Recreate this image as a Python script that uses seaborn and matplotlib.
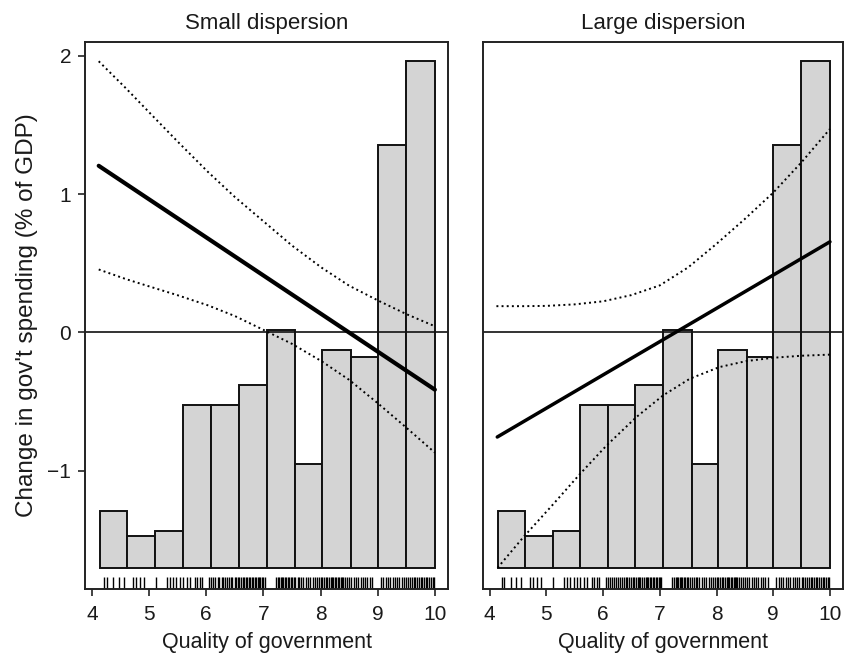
import numpy as np
import pandas as pd
import matplotlib
matplotlib.use("Agg")
import matplotlib.pyplot as plt
import seaborn as sns

# ---------------- data ----------------
panel_titles = ["Small dispersion", "Large dispersion"]
x_ticks = [4, 5, 6, 7, 8, 9, 10]
y_ticks = [-1, 0, 1, 2]

# histogram of quality of government (drawn on the y scale, base at -1.70)
hist_edges = [4.147, 4.62, 5.11, 5.59, 6.08, 6.57, 7.06, 7.56, 8.03, 8.53, 9.00, 9.49, 10.0]
hist_tops = [-1.29, -1.47, -1.435, -0.524, -0.524, -0.377, 0.015, -0.95, -0.13, -0.18, 1.353, 1.96]
hist_base = -1.70

# rug of observed quality-of-government values
rug_values = [4.22, 4.26, 4.37, 4.47, 4.56, 4.72, 4.77, 4.835, 4.91, 5.115,
              5.32, 5.36, 5.42, 5.48, 5.535, 5.59, 5.66, 5.72, 5.80, 5.84, 5.89, 5.92,
              6.05, 6.09, 6.12, 6.16, 6.20, 6.23, 6.27, 6.30, 6.33, 6.37, 6.40, 6.43,
              6.46, 6.50, 6.53, 6.55, 6.58, 6.61, 6.64, 6.66, 6.69, 6.72, 6.75, 6.77,
              6.80, 6.82, 6.85, 6.88, 6.90, 6.93, 6.95, 6.98, 7.00, 7.03, 7.22, 7.25,
              7.28, 7.30, 7.33, 7.35, 7.38, 7.40, 7.43, 7.45, 7.48, 7.50, 7.53, 7.56,
              7.60, 7.63, 7.66, 7.70, 7.74, 7.78, 7.82, 7.86, 7.90, 7.94, 7.97, 8.00,
              8.03, 8.06, 8.09, 8.12, 8.15, 8.18, 8.20, 8.22, 8.25, 8.27, 8.30, 8.32,
              8.35, 8.37, 8.40, 8.43, 8.46, 8.50, 8.54, 8.58, 8.62, 8.66, 8.70, 8.74,
              8.78, 8.82, 8.86, 8.90, 9.05, 9.10, 9.14, 9.18, 9.22, 9.26, 9.30, 9.34,
              9.38, 9.42, 9.46, 9.50, 9.53, 9.56, 9.60, 9.63, 9.66, 9.69, 9.72, 9.75,
              9.78, 9.81, 9.84, 9.87, 9.90, 9.93, 9.96, 9.99]

# Small dispersion panel
small_fit_x = [4.12, 10.0]
small_fit_y = [1.204, -0.413]
small_band_x = [4.12, 4.6, 5.04, 5.5, 6.03, 6.5, 7.03, 7.5, 8.02, 8.5, 9.01, 9.5, 10.0]
small_upper = [1.959, 1.762, 1.574, 1.379, 1.160, 0.979, 0.793, 0.628, 0.468, 0.338, 0.230, 0.133, 0.045]
small_lower = [0.455, 0.385, 0.328, 0.269, 0.196, 0.119, 0.013, -0.082, -0.208, -0.342, -0.514, -0.687, -0.868]

# Large dispersion panel
large_fit_x = [4.135, 10.0]
large_fit_y = [-0.755, 0.655]
large_upper_x = [4.12, 4.6, 5.0, 5.5, 6.0, 6.5, 7.0, 7.5, 8.0, 8.5, 9.0, 9.5, 10.0]
large_upper = [0.19, 0.19, 0.192, 0.203, 0.225, 0.27, 0.34, 0.47, 0.64, 0.82, 1.01, 1.23, 1.47]
large_lower_x = [4.14, 4.6, 5.1, 5.6, 6.065, 6.59, 7.06, 7.53, 8.05, 8.52, 8.99, 9.5, 10.0]
large_lower = [-1.70, -1.476, -1.25, -1.019, -0.815, -0.61, -0.454, -0.334, -0.25, -0.207, -0.183, -0.168, -0.16]

xlabel = "Quality of government"
ylabel = "Change in gov't spending (% of GDP)"

# ---------------- style ----------------
sns.set_theme(style="ticks")
plt.rcParams["font.family"] = ["Liberation Sans", "DejaVu Sans"]
plt.rcParams["axes.unicode_minus"] = True
text_col = "#1a1a1a"

fig = plt.figure(figsize=(8.5, 6.55), dpi=100)
ax_l = fig.add_axes([0.100, 0.1003, 0.4274, 0.8360])
ax_r = fig.add_axes([0.568, 0.1003, 0.4241, 0.8360])

edges = np.array(hist_edges)
widths = np.diff(edges)
heights = np.array(hist_tops) - hist_base

rug_df = pd.DataFrame({"q": rug_values})

panels = [
    (ax_l, panel_titles[0],
     [(small_fit_x, small_fit_y, "-", 3.0),
      (small_band_x, small_upper, ":", 1.4),
      (small_band_x, small_lower, ":", 1.4)]),
    (ax_r, panel_titles[1],
     [(large_fit_x, large_fit_y, "-", 2.5),
      (large_upper_x, large_upper, ":", 1.4),
      (large_lower_x, large_lower, ":", 1.4)]),
]

for ax, title, lines in panels:
    ax.bar(edges[:-1], heights, width=widths, bottom=hist_base, align="edge",
           color="#d4d4d4", edgecolor="#111111", linewidth=1.4, zorder=1)
    ax.axhline(0, color="#111111", linewidth=1.2, zorder=2)
    for xs, ys, ls, lw in lines:
        df = pd.DataFrame({"x": xs, "y": ys})
        sns.lineplot(data=df, x="x", y="y", ax=ax, color="black", linestyle=ls,
                     linewidth=lw, estimator=None, sort=False, zorder=3)
    sns.rugplot(data=rug_df, x="q", ax=ax, height=0.023, color="black",
                linewidth=1.0, expand_margins=False)
    ax.set_xlim(3.88, 10.235)
    ax.set_ylim(-1.855, 2.10)
    ax.set_xticks(x_ticks)
    ax.set_xticklabels([str(t) for t in x_ticks], fontsize=15, color=text_col)
    ax.set_xlabel(xlabel, fontsize=15.5, color=text_col, labelpad=6)
    ax.set_ylabel("")
    ax.set_title(title, fontsize=16, color=text_col, pad=9)
    for sp in ax.spines.values():
        sp.set_visible(True)
        sp.set_linewidth(1.4)
        sp.set_color("#222222")
    ax.tick_params(axis="x", length=5, width=1.2, color="#222222", pad=6)

ax_l.set_yticks(y_ticks)
ax_l.set_yticklabels(["\u2212" + str(-t) if t < 0 else str(t) for t in y_ticks],
                     fontsize=15, color=text_col)
ax_l.tick_params(axis="y", length=5, width=1.2, color="#222222", pad=5)
ax_l.set_ylabel(ylabel, fontsize=17.5, color=text_col, labelpad=7)
ax_r.set_yticks([])

fig.savefig("out.png", dpi=100)
